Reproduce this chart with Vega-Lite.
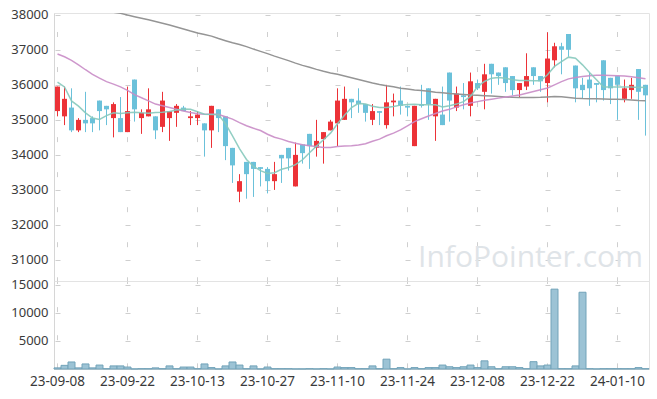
{
  "$schema": "https://vega.github.io/schema/vega-lite/v6.json",
  "autosize": {"type": "pad"},
  "padding": {"left": 10, "top": 8, "right": 9, "bottom": 10},
  "background": "white",
  "spacing": 0,
  "bounds": "flush",
  "config": {
    "font": "Noto Sans",
    "view": {"stroke": "#e3e3e3"},
    "axis": {"labelFont": "Noto Sans", "labelFontSize": 13, "labelColor": "#3a3a3a", "ticks": false, "domainColor": "#d6d6d6", "gridColor": "#cfcfcf", "title": null, "labelOverlap": false}
  },
  "datasets": {
    "d": [
      {"date":"23-09-08","open":35250,"high":35950,"low":35100,"close":35950,"volume":200,"ma5":36080,"ma20":36880,"ma60":38450},
      {"date":"23-09-11","open":35100,"high":35950,"low":34850,"close":35600,"volume":650,"ma5":35940,"ma20":36800,"ma60":38400},
      {"date":"23-09-12","open":35350,"high":35900,"low":34650,"close":34700,"volume":1250,"ma5":35540,"ma20":36700,"ma60":38350},
      {"date":"23-09-13","open":34700,"high":35050,"low":34650,"close":35000,"volume":200,"ma5":35390,"ma20":36570,"ma60":38300},
      {"date":"23-09-14","open":35000,"high":35800,"low":34650,"close":34900,"volume":900,"ma5":35200,"ma20":36430,"ma60":38250},
      {"date":"23-09-15","open":35050,"high":35100,"low":34650,"close":34900,"volume":200,"ma5":35050,"ma20":36300,"ma60":38200},
      {"date":"23-09-18","open":35550,"high":35550,"low":34700,"close":35250,"volume":700,"ma5":35010,"ma20":36190,"ma60":38150},
      {"date":"23-09-19","open":35400,"high":35400,"low":34850,"close":35300,"volume":60,"ma5":35120,"ma20":36090,"ma60":38110},
      {"date":"23-09-20","open":35050,"high":35500,"low":34500,"close":35450,"volume":550,"ma5":35200,"ma20":36020,"ma60":38070},
      {"date":"23-09-21","open":35050,"high":35650,"low":34650,"close":34650,"volume":550,"ma5":35180,"ma20":35940,"ma60":38040},
      {"date":"23-09-22","open":34650,"high":35950,"low":34650,"close":35250,"volume":350,"ma5":35200,"ma20":35840,"ma60":37990},
      {"date":"23-09-25","open":36150,"high":36150,"low":34950,"close":35300,"volume":20,"ma5":35215,"ma20":35720,"ma60":37945},
      {"date":"23-09-26","open":35050,"high":35300,"low":34600,"close":35200,"volume":60,"ma5":35200,"ma20":35630,"ma60":37900},
      {"date":"23-09-27","open":35100,"high":35900,"low":35100,"close":35300,"volume":60,"ma5":35190,"ma20":35540,"ma60":37855},
      {"date":"23-10-04","open":35100,"high":35100,"low":34450,"close":34700,"volume":200,"ma5":35210,"ma20":35450,"ma60":37805},
      {"date":"23-10-05","open":34800,"high":35800,"low":34650,"close":35550,"volume":60,"ma5":35220,"ma20":35400,"ma60":37755},
      {"date":"23-10-06","open":35050,"high":35250,"low":34400,"close":35250,"volume":550,"ma5":35240,"ma20":35350,"ma60":37705},
      {"date":"23-10-10","open":35200,"high":35450,"low":34800,"close":35400,"volume":60,"ma5":35280,"ma20":35300,"ma60":37650},
      {"date":"23-10-11","open":35350,"high":35400,"low":35250,"close":35250,"volume":350,"ma5":35310,"ma20":35250,"ma60":37595},
      {"date":"23-10-12","open":35050,"high":35250,"low":34850,"close":35100,"volume":350,"ma5":35300,"ma20":35210,"ma60":37535},
      {"date":"23-10-13","open":35050,"high":35250,"low":34850,"close":35150,"volume":60,"ma5":35230,"ma20":35175,"ma60":37480},
      {"date":"23-10-16","open":34900,"high":34900,"low":33950,"close":34700,"volume":900,"ma5":35160,"ma20":35160,"ma60":37435},
      {"date":"23-10-17","open":34700,"high":35400,"low":34200,"close":35400,"volume":250,"ma5":35150,"ma20":35160,"ma60":37390},
      {"date":"23-10-18","open":35300,"high":35300,"low":34650,"close":35050,"volume":20,"ma5":35150,"ma20":35155,"ma60":37320},
      {"date":"23-10-19","open":35100,"high":35100,"low":33850,"close":34250,"volume":550,"ma5":34890,"ma20":35090,"ma60":37260},
      {"date":"23-10-20","open":34200,"high":34200,"low":33200,"close":33700,"volume":1250,"ma5":34540,"ma20":35020,"ma60":37200},
      {"date":"23-10-23","open":32950,"high":33450,"low":32650,"close":33250,"volume":700,"ma5":34180,"ma20":34920,"ma60":37150},
      {"date":"23-10-24","open":33800,"high":33800,"low":32750,"close":33450,"volume":60,"ma5":33870,"ma20":34830,"ma60":37090},
      {"date":"23-10-25","open":33800,"high":33800,"low":32800,"close":33600,"volume":550,"ma5":33670,"ma20":34760,"ma60":37020},
      {"date":"23-10-26","open":33650,"high":33650,"low":33100,"close":33600,"volume":20,"ma5":33550,"ma20":34695,"ma60":36955},
      {"date":"23-10-27","open":33600,"high":33650,"low":32900,"close":33250,"volume":350,"ma5":33470,"ma20":34590,"ma60":36890},
      {"date":"23-10-30","open":33250,"high":33800,"low":33000,"close":33450,"volume":60,"ma5":33490,"ma20":34505,"ma60":36820},
      {"date":"23-10-31","open":34000,"high":34000,"low":33200,"close":33900,"volume":60,"ma5":33590,"ma20":34450,"ma60":36755},
      {"date":"23-11-01","open":34200,"high":34200,"low":33550,"close":33900,"volume":60,"ma5":33640,"ma20":34380,"ma60":36690},
      {"date":"23-11-02","open":33100,"high":34350,"low":33100,"close":34000,"volume":20,"ma5":33720,"ma20":34330,"ma60":36620},
      {"date":"23-11-03","open":34300,"high":34300,"low":33750,"close":34050,"volume":20,"ma5":33860,"ma20":34290,"ma60":36555},
      {"date":"23-11-06","open":34600,"high":34600,"low":33600,"close":34250,"volume":60,"ma5":34060,"ma20":34260,"ma60":36500},
      {"date":"23-11-07","open":34200,"high":35000,"low":33950,"close":34400,"volume":20,"ma5":34250,"ma20":34240,"ma60":36440},
      {"date":"23-11-08","open":34450,"high":34650,"low":33750,"close":34650,"volume":60,"ma5":34430,"ma20":34210,"ma60":36385},
      {"date":"23-11-09","open":34700,"high":35000,"low":34700,"close":34950,"volume":20,"ma5":34620,"ma20":34210,"ma60":36340},
      {"date":"23-11-10","open":34900,"high":35900,"low":34250,"close":35550,"volume":350,"ma5":34890,"ma20":34240,"ma60":36300},
      {"date":"23-11-13","open":35000,"high":35950,"low":35000,"close":35600,"volume":250,"ma5":35130,"ma20":34255,"ma60":36250},
      {"date":"23-11-14","open":35600,"high":35600,"low":35050,"close":35500,"volume":250,"ma5":35350,"ma20":34260,"ma60":36200},
      {"date":"23-11-15","open":35550,"high":35900,"low":35200,"close":35450,"volume":60,"ma5":35470,"ma20":34280,"ma60":36150},
      {"date":"23-11-16","open":35450,"high":35450,"low":34950,"close":35200,"volume":60,"ma5":35450,"ma20":34320,"ma60":36100},
      {"date":"23-11-17","open":35000,"high":35450,"low":34850,"close":35250,"volume":550,"ma5":35390,"ma20":34390,"ma60":36050},
      {"date":"23-11-20","open":35250,"high":35250,"low":34850,"close":35200,"volume":60,"ma5":35350,"ma20":34450,"ma60":36010},
      {"date":"23-11-21","open":34850,"high":36000,"low":34750,"close":35500,"volume":1750,"ma5":35350,"ma20":34545,"ma60":35975},
      {"date":"23-11-22","open":35500,"high":35750,"low":35100,"close":35550,"volume":60,"ma5":35380,"ma20":34620,"ma60":35945},
      {"date":"23-11-23","open":35550,"high":35950,"low":35150,"close":35400,"volume":250,"ma5":35420,"ma20":34715,"ma60":35905},
      {"date":"23-11-24","open":35400,"high":35400,"low":35100,"close":35350,"volume":20,"ma5":35440,"ma20":34830,"ma60":35880},
      {"date":"23-11-27","open":34250,"high":35400,"low":34250,"close":35400,"volume":250,"ma5":35445,"ma20":34950,"ma60":35855},
      {"date":"23-11-28","open":35450,"high":36000,"low":35350,"close":35400,"volume":60,"ma5":35430,"ma20":35030,"ma60":35835},
      {"date":"23-11-29","open":35900,"high":35900,"low":35000,"close":35450,"volume":250,"ma5":35430,"ma20":35110,"ma60":35815},
      {"date":"23-11-30","open":35100,"high":35600,"low":34400,"close":35600,"volume":250,"ma5":35430,"ma20":35180,"ma60":35790},
      {"date":"23-12-01","open":35150,"high":35950,"low":34850,"close":34850,"volume":700,"ma5":35370,"ma20":35250,"ma60":35775},
      {"date":"23-12-04","open":36350,"high":36350,"low":34950,"close":35550,"volume":400,"ma5":35400,"ma20":35300,"ma60":35755},
      {"date":"23-12-05","open":35350,"high":35950,"low":35250,"close":35750,"volume":250,"ma5":35450,"ma20":35370,"ma60":35740},
      {"date":"23-12-06","open":35700,"high":36050,"low":35300,"close":35650,"volume":400,"ma5":35520,"ma20":35430,"ma60":35725},
      {"date":"23-12-07","open":35400,"high":36350,"low":35100,"close":36100,"volume":700,"ma5":35670,"ma20":35480,"ma60":35710},
      {"date":"23-12-08","open":36050,"high":36150,"low":35850,"close":35900,"volume":250,"ma5":35950,"ma20":35520,"ma60":35700},
      {"date":"23-12-11","open":35800,"high":36600,"low":35300,"close":36300,"volume":1450,"ma5":36095,"ma20":35560,"ma60":35690},
      {"date":"23-12-12","open":36600,"high":36600,"low":35750,"close":36300,"volume":400,"ma5":36190,"ma20":35590,"ma60":35680},
      {"date":"23-12-13","open":36350,"high":36350,"low":36000,"close":36250,"volume":60,"ma5":36210,"ma20":35620,"ma60":35670},
      {"date":"23-12-14","open":36500,"high":36500,"low":35800,"close":36050,"volume":400,"ma5":36190,"ma20":35650,"ma60":35655},
      {"date":"23-12-15","open":36250,"high":36250,"low":35700,"close":35850,"volume":400,"ma5":36145,"ma20":35680,"ma60":35645},
      {"date":"23-12-18","open":35850,"high":36050,"low":35650,"close":36050,"volume":250,"ma5":36125,"ma20":35710,"ma60":35640},
      {"date":"23-12-19","open":35950,"high":36900,"low":35850,"close":36250,"volume":60,"ma5":36120,"ma20":35760,"ma60":35640},
      {"date":"23-12-20","open":36500,"high":36500,"low":36000,"close":36250,"volume":1300,"ma5":36115,"ma20":35810,"ma60":35640},
      {"date":"23-12-21","open":36250,"high":36250,"low":35800,"close":36100,"volume":550,"ma5":36115,"ma20":35860,"ma60":35645},
      {"date":"23-12-22","open":36050,"high":37500,"low":35500,"close":36750,"volume":700,"ma5":36285,"ma20":35910,"ma60":35655},
      {"date":"23-12-26","open":36700,"high":37200,"low":36500,"close":37100,"volume":14200,"ma5":36525,"ma20":36000,"ma60":35665},
      {"date":"23-12-27","open":37100,"high":37200,"low":36300,"close":37000,"volume":60,"ma5":36665,"ma20":36090,"ma60":35660},
      {"date":"23-12-28","open":37450,"high":37450,"low":36800,"close":37000,"volume":60,"ma5":36790,"ma20":36170,"ma60":35640},
      {"date":"24-01-02","open":36550,"high":36550,"low":35500,"close":35900,"volume":550,"ma5":36760,"ma20":36210,"ma60":35620},
      {"date":"24-01-03","open":36000,"high":36200,"low":35600,"close":35850,"volume":13650,"ma5":36570,"ma20":36240,"ma60":35610},
      {"date":"24-01-04","open":36150,"high":36350,"low":35400,"close":35900,"volume":60,"ma5":36350,"ma20":36260,"ma60":35605},
      {"date":"24-01-05","open":36050,"high":36050,"low":35500,"close":36000,"volume":20,"ma5":36145,"ma20":36270,"ma60":35600},
      {"date":"24-01-08","open":36700,"high":36700,"low":35550,"close":35850,"volume":60,"ma5":35935,"ma20":36270,"ma60":35595},
      {"date":"24-01-09","open":36200,"high":36200,"low":35450,"close":35900,"volume":60,"ma5":35935,"ma20":36265,"ma60":35590},
      {"date":"24-01-10","open":36250,"high":36250,"low":35000,"close":36000,"volume":60,"ma5":35935,"ma20":36260,"ma60":35590},
      {"date":"24-01-11","open":35600,"high":36150,"low":35500,"close":35900,"volume":60,"ma5":35935,"ma20":36250,"ma60":35580},
      {"date":"24-01-12","open":35850,"high":36200,"low":35600,"close":36000,"volume":60,"ma5":35935,"ma20":36230,"ma60":35570},
      {"date":"24-01-15","open":36450,"high":36450,"low":35000,"close":35800,"volume":250,"ma5":35925,"ma20":36200,"ma60":35555},
      {"date":"24-01-16","open":36000,"high":36000,"low":34550,"close":35700,"volume":60,"ma5":35930,"ma20":36170,"ma60":35545}
    ]
  },
  "vconcat": [
    {
      "width": 595,
      "height": 268,
      "data": {"name": "d"},
      "encoding": {
        "x": {
          "field": "date", "type": "ordinal",
          "scale": {"type": "band", "paddingInner": 0, "paddingOuter": 0},
          "axis": {"orient": "top", "labels": false, "domain": false, "grid": true, "bandPosition": 0.5, "gridDash": [5, 30.033], "gridDashOffset": 0.75, "values": ["23-09-08","23-09-22","23-10-13","23-10-27","23-11-10","23-11-24","23-12-08","23-12-22","24-01-10"]}
        }
      },
      "layer": [
        {
          "data": {"values": [{"t": "InfoPointer.com"}]},
          "mark": {"type": "text", "fontSize": 30, "font": "Open Sans", "color": "#dfe4e8", "baseline": "middle", "align": "center", "dx": 4},
          "encoding": {
            "x": {"datum": "23-12-19"},
            "y": {"datum": 31065},
            "text": {"field": "t"}
          }
        },
        {
          "mark": {"type": "rule", "strokeWidth": 1},
          "encoding": {
            "y": {"field": "low", "type": "quantitative", "scale": {"domain": [30400, 38050], "nice": false, "zero": false},
              "axis": {"values": [31000, 32000, 33000, 34000, 35000, 36000, 37000, 38000], "tickCount": 20, "format": "d", "labelOverlap": false, "labelBound": false, "labelPadding": 6, "grid": true, "gridDash": [5, 65], "gridDashOffset": 69}},
            "y2": {"field": "high"},
            "color": {"condition": {"test": "datum.close >= datum.open", "value": "#ec3237"}, "value": "#6bc1da"}
          }
        },
        {
          "mark": {"type": "bar", "size": 5},
          "encoding": {
            "y": {"field": "open", "type": "quantitative"},
            "y2": {"field": "close"},
            "color": {"condition": {"test": "datum.close >= datum.open", "value": "#ec3237"}, "value": "#6bc1da"}
          }
        },
        {
          "mark": {"type": "line", "color": "#959595", "strokeWidth": 1.5, "clip": true},
          "encoding": {"y": {"field": "ma60", "type": "quantitative"}}
        },
        {
          "mark": {"type": "line", "color": "#c98cc6", "strokeWidth": 1.5, "opacity": 0.9},
          "encoding": {"y": {"field": "ma20", "type": "quantitative"}}
        },
        {
          "mark": {"type": "line", "color": "#86c9bd", "strokeWidth": 1.5, "opacity": 0.9},
          "encoding": {"y": {"field": "ma5", "type": "quantitative"}}
        }
      ]
    },
    {
      "width": 595,
      "height": 88,
      "data": {"name": "d"},
      "mark": {"type": "bar", "fill": "#9cc3d5", "stroke": "#72a3b9", "strokeWidth": 1},
      "encoding": {
        "x": {
          "field": "date", "type": "ordinal",
          "scale": {"type": "band", "paddingInner": 0, "paddingOuter": 0},
          "axis": {"orient": "bottom", "labelAngle": 0, "labelPadding": 5, "labelFontSize": 13.5, "labelOverlap": false, "grid": true, "bandPosition": 0.5, "gridDash": [5, 23.117], "gridDashOffset": 2.5, "values": ["23-09-08","23-09-22","23-10-13","23-10-27","23-11-10","23-11-24","23-12-08","23-12-22","24-01-10"]}
        },
        "y": {
          "field": "volume", "type": "quantitative",
          "scale": {"domain": [0, 15650], "nice": false},
          "axis": {"values": [5000, 10000, 15000], "tickCount": 10, "format": "d", "labelOverlap": false, "labelPadding": 6, "grid": true, "gridDash": [5, 65], "gridDashOffset": 69}
        }
      }
    }
  ]
}
